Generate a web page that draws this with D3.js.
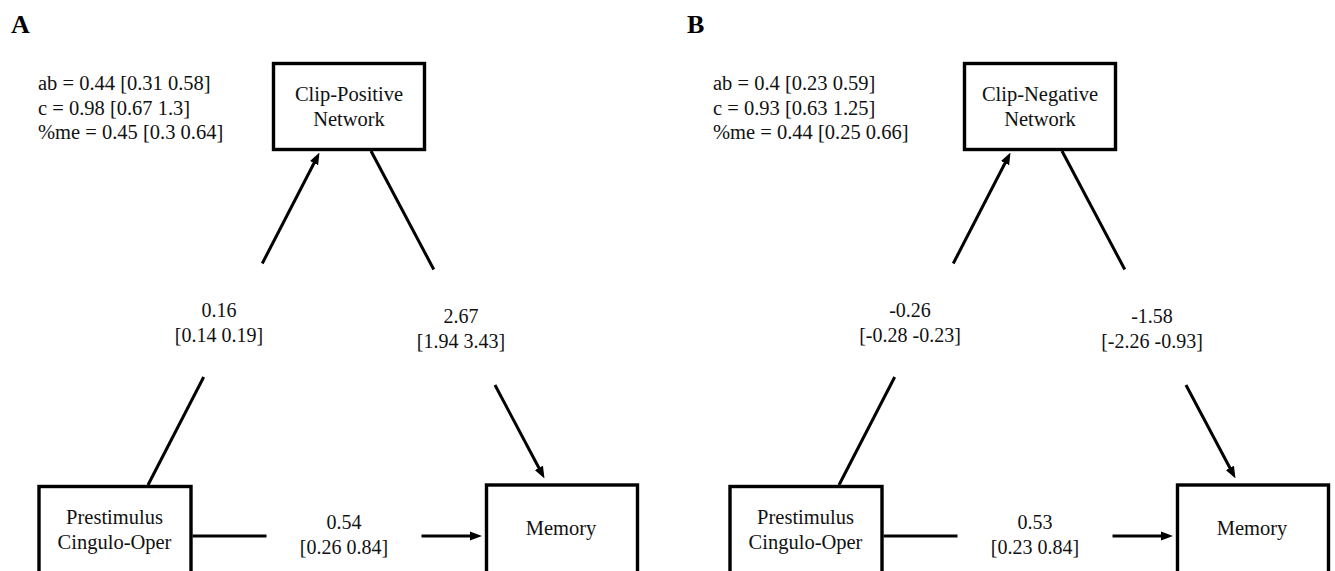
<!DOCTYPE html>
<html>
<head>
<meta charset="utf-8">
<script src="https://cdn.jsdelivr.net/npm/d3@7/dist/d3.min.js"></script>
<style>
  html, body { margin: 0; padding: 0; background: #fff; }
  svg { display: block; }
  text { font-family: "Liberation Serif", "Times New Roman", serif; fill: #111; }
</style>
</head>
<body>
<svg id="chart" width="1335" height="571"></svg>
<script>
// Mediation models: prestimulus cingulo-opercular activity -> clip network -> memory
const panels = ["A", "B"];
const mediatorLabels = [["Clip-Positive", "Network"], ["Clip-Negative", "Network"]];
const predictorLabel = ["Prestimulus", "Cingulo-Oper"];
const outcomeLabel = ["Memory"];

// path coefficients with 95% confidence intervals, one entry per panel
const pathA = [0.16, -0.26];
const pathA_CI = [[0.14, 0.19], [-0.28, -0.23]];
const pathB = [2.67, -1.58];
const pathB_CI = [[1.94, 3.43], [-2.26, -0.93]];
const pathC = [0.54, 0.53];
const pathC_CI = [[0.26, 0.84], [0.23, 0.84]];

// indirect effect, total effect and proportion mediated
const indirect = [0.44, 0.4];
const indirect_CI = [[0.31, 0.58], [0.23, 0.59]];
const total = [0.98, 0.93];
const total_CI = [[0.67, 1.3], [0.63, 1.25]];
const propMed = [0.45, 0.44];
const propMed_CI = [[0.3, 0.64], [0.25, 0.66]];

const svg = d3.select("#chart");
svg.append("rect").attr("width", 1335).attr("height", 571).attr("fill", "#fff");

// horizontal offset of each panel
const panelX = d3.scalePoint().domain(panels).range([0, 691]);

// node boxes in panel-local coordinates
const boxes = {
  X: { x: 39,    y: 486.5, w: 152, h: 130 },
  M: { x: 273.5, y: 63.5,  w: 151, h: 86 },
  Y: { x: 486.5, y: 485,   w: 151, h: 130 }
};

const fmt = v => String(v);
const ci = c => "[" + fmt(c[0]) + " " + fmt(c[1]) + "]";

const defs = svg.append("defs");
defs.append("marker")
  .attr("id", "head")
  .attr("viewBox", "0 -5 12 10")
  .attr("refX", 3).attr("refY", 0)
  .attr("markerUnits", "userSpaceOnUse")
  .attr("markerWidth", 12).attr("markerHeight", 10)
  .attr("orient", "auto")
  .append("path")
  .attr("d", "M0,-4.6L12,0L0,4.6Z")
  .attr("fill", "#000");

panels.forEach((p, i) => {
  const g = svg.append("g").attr("transform", `translate(${panelX(p)},0)`);

  // panel letter and summary statistics (position differs slightly per panel)
  const lx = i === 0 ? 11 : -4;
  const sx = i === 0 ? 38 : 22;
  g.append("text").attr("x", lx).attr("y", 33)
    .attr("font-size", 26).attr("font-weight", "bold").style("fill", "#000")
    .text(p);

  const stats = [
    "ab = " + fmt(indirect[i]) + " " + ci(indirect_CI[i]),
    "c = " + fmt(total[i]) + " " + ci(total_CI[i]),
    "%me = " + fmt(propMed[i]) + " " + ci(propMed_CI[i])
  ];
  g.selectAll("text.stat").data(stats).join("text")
    .attr("class", "stat")
    .attr("x", sx).attr("y", (d, k) => 90 + k * 24.5)
    .attr("font-size", 20.5)
    .text(d => d);

  // boxes
  Object.values(boxes).forEach(b => {
    g.append("rect")
      .attr("x", b.x).attr("y", b.y).attr("width", b.w).attr("height", b.h)
      .attr("fill", "none").attr("stroke", "#000").attr("stroke-width", 3.4);
  });

  const boxText = (lines, cx, y0) => {
    g.selectAll(null).data(lines).join("text")
      .attr("x", cx).attr("y", (d, k) => y0 + k * 25)
      .attr("text-anchor", "middle").attr("font-size", 20.5)
      .text(d => d);
  };
  boxText(mediatorLabels[i], boxes.M.x + boxes.M.w / 2, 101);
  boxText(predictorLabel, boxes.X.x + boxes.X.w / 2 - 0.5, 524);
  boxText(outcomeLabel, boxes.Y.x + boxes.Y.w / 2 - 1, 535);

  // edges: full line from source to target with a gap where the label sits
  const seg = (x1, y1, x2, y2, t0, t1, sw) => {
    const lerp = t => [x1 + (x2 - x1) * t, y1 + (y2 - y1) * t];
    const a = lerp(0), b = lerp(t0), c = lerp(t1), d = lerp(1);
    g.append("line").attr("x1", a[0]).attr("y1", a[1]).attr("x2", b[0]).attr("y2", b[1])
      .attr("stroke", "#000").attr("stroke-width", sw);
    // last piece stops short of the tip; the marker supplies the point
    const len = Math.hypot(d[0] - c[0], d[1] - c[1]);
    const k = (len - 9) / len;
    g.append("line").attr("x1", c[0]).attr("y1", c[1])
      .attr("x2", c[0] + (d[0] - c[0]) * k).attr("y2", c[1] + (d[1] - c[1]) * k)
      .attr("stroke", "#000").attr("stroke-width", sw)
      .attr("marker-end", "url(#head)");
  };

  // a path: predictor top -> mediator bottom
  const a0 = [148, boxes.X.y - 1.5], a1 = [319.5, boxes.M.y + boxes.M.h + 3];
  const ta0 = (a0[1] - 377) / (a0[1] - a1[1]), ta1 = (a0[1] - 263.5) / (a0[1] - a1[1]);
  seg(a0[0], a0[1], a1[0], a1[1], ta0, ta1, 3);

  // b path: mediator bottom -> outcome top
  const b0 = [371, boxes.M.y + boxes.M.h + 1.5], b1 = [544.5, boxes.Y.y - 6.5];
  const tb0 = (269.5 - b0[1]) / (b1[1] - b0[1]), tb1 = (385 - b0[1]) / (b1[1] - b0[1]);
  seg(b0[0], b0[1], b1[0], b1[1], tb0, tb1, 3);

  // c' path: predictor right -> outcome left
  const c0 = [boxes.X.x + boxes.X.w + 1.5, 536], c1 = [boxes.Y.x - 4.5, 536];
  const tc0 = (266.5 - c0[0]) / (c1[0] - c0[0]), tc1 = (421.5 - c0[0]) / (c1[0] - c0[0]);
  seg(c0[0], c0[1], c1[0], c1[1], tc0, tc1, 3.2);

  // coefficient labels
  const edgeLabel = (v, c, cx, y0) => {
    g.selectAll(null).data([fmt(v), ci(c)]).join("text")
      .attr("x", cx).attr("y", (d, k) => y0 + k * 25)
      .attr("text-anchor", "middle").attr("font-size", 20)
      .text(d => d);
  };
  edgeLabel(pathA[i], pathA_CI[i], 219, 317);
  edgeLabel(pathB[i], pathB_CI[i], 461, 323);
  edgeLabel(pathC[i], pathC_CI[i], 344, 529);
});
</script>
</body>
</html>
